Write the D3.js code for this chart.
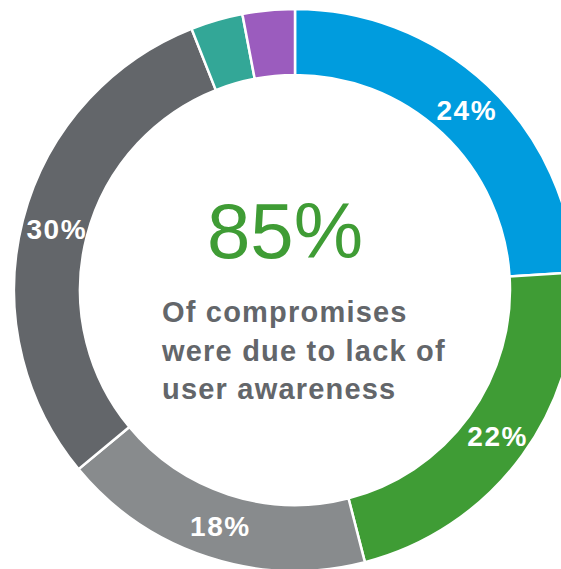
<!DOCTYPE html>
<html>
<head>
<meta charset="utf-8">
<script src="https://cdn.jsdelivr.net/npm/d3@7"></script>
<style>
  body { margin: 0; background: #fff; }
  svg { display: block; }
</style>
</head>
<body>
<svg></svg>
<script>
// donut chart - causes of compromise

var categories = ['A', 'B', 'C', 'D', 'E', 'F']
var values = [24, 22, 18, 30, 3, 3]
var labels = ['24%', '22%', '18%', '30%', '', '']
var colors = ['#009cde', '#3f9c35', '#888b8d', '#63666a', '#33a797', '#9b5cbe']

var bigNumber = '85%'
var subLines = ['Of compromises', 'were due to lack of', 'user awareness']

var width = 561,
    height = 569,
    cx = 295,
    cy = 290,
    outerR = 281,
    innerR = 215

var svg = d3.select('svg')
    .attr('width', width)
    .attr('height', height)

var g = svg.append('g')
    .attr('transform', 'translate(' + cx + ',' + cy + ')')

var data = categories.map(function(c, i) {
    return { cat: c, value: values[i], label: labels[i], color: colors[i] }
})

var pie = d3.pie()
    .sort(null)
    .value(d => d.value)

var arc = d3.arc()
    .innerRadius(innerR)
    .outerRadius(outerR)

var arcs = pie(data)

g.selectAll('path')
    .data(arcs)
    .join('path')
    .attr('d', arc)
    .attr('fill', d => d.data.color)
    .attr('stroke', '#fff')
    .attr('stroke-width', 2.5)

g.selectAll('text.lbl')
    .data(arcs)
    .join('text')
    .attr('class', 'lbl')
    .attr('x', d => arc.centroid(d)[0] + 2)
    .attr('y', d => arc.centroid(d)[1] + 1)
    .attr('text-anchor', 'middle')
    .attr('dominant-baseline', 'central')
    .style('font-family', '"Liberation Sans", Arial, sans-serif')
    .style('font-weight', 'bold')
    .style('font-size', '28px')
    .style('letter-spacing', '1.5px')
    .style('fill', '#fff')
    .text(d => d.data.label)

// centre text
svg.append('text')
    .attr('x', 285)
    .attr('y', 258)
    .attr('text-anchor', 'middle')
    .style('font-family', '"Liberation Sans", Arial, sans-serif')
    .style('font-size', '78px')
    .style('fill', '#3f9c35')
    .text(bigNumber)

svg.selectAll('text.sub')
    .data(subLines)
    .join('text')
    .attr('class', 'sub')
    .attr('x', 162)
    .attr('y', (d, i) => 322 + i * 38.5)
    .style('font-family', '"Liberation Sans", Arial, sans-serif')
    .style('font-weight', 'bold')
    .style('font-size', '29px')
    .style('letter-spacing', '1.2px')
    .style('fill', '#63666a')
    .text(d => d)
</script>
</body>
</html>
